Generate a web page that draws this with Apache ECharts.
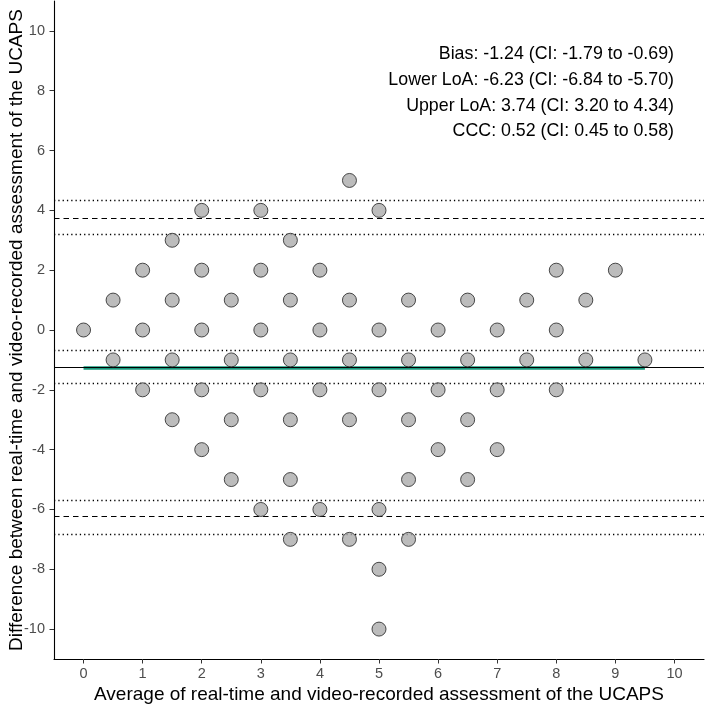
<!DOCTYPE html>
<html>
<head>
<meta charset="utf-8">
<script src="https://cdn.jsdelivr.net/npm/echarts@6/dist/echarts.min.js"></script>
<style>
html,body{margin:0;padding:0;background:#fff;}
#c{width:705px;height:706px;}
</style>
</head>
<body>
<div id="c"></div>
<script>
// ---- data ----
var xTicks = [0,1,2,3,4,5,6,7,8,9,10];
var yTicks = [-10,-8,-6,-4,-2,0,2,4,6,8,10];
var pointsX = [4.5, 2,3,5, 1.5,3.5, 1,2,3,4,8,9,
  0.5,1.5,2.5,3.5,4.5,5.5,6.5,7.5,8.5,
  0,1,2,3,4,5,6,7,8,
  0.5,1.5,2.5,3.5,4.5,5.5,6.5,7.5,8.5,9.5,
  1,2,3,4,5,6,7,8,
  1.5,2.5,3.5,4.5,5.5,6.5,
  2,6,7,
  2.5,3.5,5.5,6.5,
  3,4,5,
  3.5,4.5,5.5,
  5,
  5];
var pointsY = [5, 4,4,4, 3,3, 2,2,2,2,2,2,
  1,1,1,1,1,1,1,1,1,
  0,0,0,0,0,0,0,0,0,
  -1,-1,-1,-1,-1,-1,-1,-1,-1,-1,
  -2,-2,-2,-2,-2,-2,-2,-2,
  -3,-3,-3,-3,-3,-3,
  -4,-4,-4,
  -5,-5,-5,-5,
  -6,-6,-6,
  -7,-7,-7,
  -8,
  -10];
var bias = -1.24;
var loaLines = [-6.23, 3.74];
var ciLines = [-1.79, -0.69, -6.84, -5.70, 3.20, 4.34];
var trendX = [0, 9.5];
var trendY = [-1.27, -1.27];
var statsLines = [
  'Bias: -1.24 (CI: -1.79 to -0.69)',
  'Lower LoA: -6.23 (CI: -6.84 to -5.70)',
  'Upper LoA: 3.74 (CI: 3.20 to 4.34)',
  'CCC: 0.52 (CI: 0.45 to 0.58)'
];
var xTitle = 'Average of real-time and video-recorded assessment of the UCAPS';
var yTitle = 'Difference between real-time and video-recorded assessment of the UCAPS';

// ---- chart ----
var FONT = '"Liberation Sans", Arial, sans-serif';
var chart = echarts.init(document.getElementById('c'), null, {renderer:'canvas'});

var pts = pointsX.map(function(x,i){return [x, pointsY[i]];});
var trend = trendX.map(function(x,i){return [x, trendY[i]];});

function hLines(vals, type, width){
  return vals.map(function(v){
    return {yAxis: v, lineStyle:{type:type, color:'#000', width:width}};
  });
}

var option = {
  animation:false,
  backgroundColor:'#fff',
  grid:{left:54, right:1, top:1, bottom:47, containLabel:false, outerBoundsMode:'none'},
  xAxis:{
    type:'value', min:-0.5, max:10.5,
    name:xTitle, nameLocation:'middle', nameGap:26, nameMoveOverlap:false,
    nameTextStyle:{fontFamily:FONT, fontSize:19, color:'#000'},
    axisLine:{show:true, onZero:false, lineStyle:{color:'#000', width:1.1}},
    axisTick:{show:true, length:4.5, customValues:xTicks, lineStyle:{color:'#333', width:1}},
    axisLabel:{customValues:xTicks, fontFamily:FONT, fontSize:14.5, color:'#4d4d4d', margin:7},
    splitLine:{show:false}
  },
  yAxis:{
    type:'value', min:-11, max:11,
    name:yTitle, nameLocation:'middle', nameGap:28, nameRotate:90, nameMoveOverlap:false,
    nameTextStyle:{fontFamily:FONT, fontSize:19, color:'#000'},
    axisLine:{show:true, onZero:false, lineStyle:{color:'#000', width:1.1}},
    axisTick:{show:true, length:4.5, customValues:yTicks, lineStyle:{color:'#333', width:1}},
    axisLabel:{customValues:yTicks, fontFamily:FONT, fontSize:14.5, color:'#4d4d4d', margin:9},
    splitLine:{show:false}
  },
  series:[
    {
      type:'line', data:trend, symbol:'none', z:2,
      lineStyle:{color:'#14977a', width:3.5}
    },
    {
      type:'scatter', data:[], z:3,
      markLine:{
        silent:true, symbol:['none','none'], label:{show:false},
        data: hLines(ciLines, [1.3,3], 1.3)
          .concat(hLines(loaLines, [5.5,4], 1.2))
          .concat(hLines([bias], 'solid', 1.1))
      }
    },
    {
      type:'scatter', data:pts, symbol:'circle', symbolSize:14, z:5,
      itemStyle:{color:'#ababab', borderColor:'#222', borderWidth:1}
    }
  ],
  graphic: statsLines.map(function(t,i){
    return {
      type:'text', x:674, y:54.5 + i*25.6, z:100,
      style:{text:t, fontFamily:FONT, fontSize:17.8, fill:'#000', textAlign:'right', textVerticalAlign:'middle'}
    };
  })
};
chart.setOption(option);
</script>
</body>
</html>
